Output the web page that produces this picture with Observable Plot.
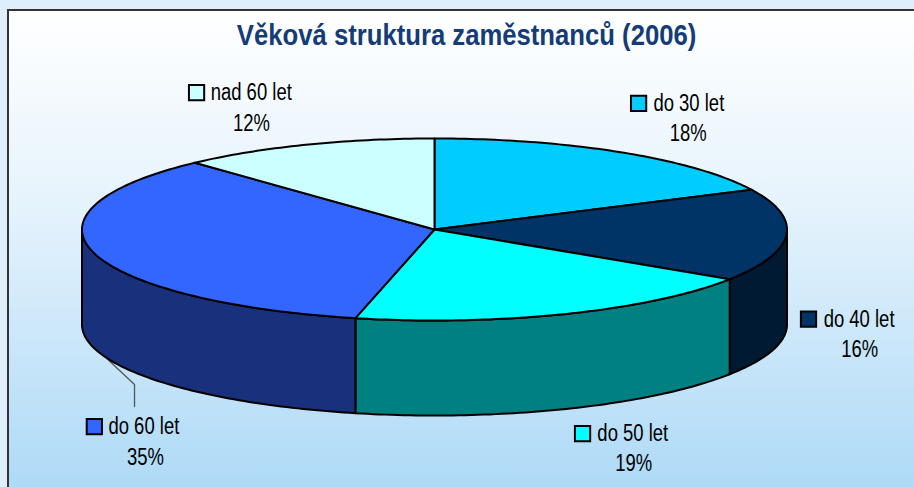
<!DOCTYPE html>
<html lang="cs"><head><meta charset="utf-8">
<script src="https://cdn.jsdelivr.net/npm/d3@7"></script>
<script src="https://cdn.jsdelivr.net/npm/@observablehq/plot@0.6"></script>
<style>
html,body{margin:0;padding:0;background:#deeefb;overflow:hidden;width:914px;height:487px}
#panel{position:absolute;left:7px;top:9px;width:907px;height:478px;box-sizing:border-box;border-left:2px solid #333;border-top:2px solid #333;
background:linear-gradient(#ffffff 0%,#e6f3fc 40%,#aedaf7 100%)}
#chart{position:absolute;left:0;top:0}
svg{background:transparent!important}
text{font-family:"Liberation Sans",sans-serif}
</style></head><body>
<div id="panel"></div><div id="chart"></div>
<script>
const titleText = "Věková struktura zaměstnanců (2006)";
const categories = ["do 30 let","do 40 let","do 50 let","do 60 let","nad 60 let"];
const shares = [17.8,16.4,19.4,34.5,11.9];
const topColors = ["#00ccff","#003366","#00ffff","#3366ff","#ccffff"];
const wallColors = ["#00607f","#001a33","#008080","#19307c","#668080"];

// label layout, in pie-radius units
const swatchX = [0.579,1.061,0.420,-0.965,-0.675];
const nameY   = [1.385,-0.984,-2.242,-2.165,1.505];
const nameX   = [0.621,1.104,0.462,-0.925,-0.635];
const pctX    = [0.72,1.206,0.565,-0.82,-0.519];
const pctY    = [1.055,-1.319,-2.571,-2.505,1.165];
const depth = 1.044;
const leader = [{x:-0.929,y:-1.42},{x:-0.851,y:-1.703},{x:-0.851,y:-1.945}];

const rad = d => d*Math.PI/180;
let cum = 0;
const slices = categories.map((name,i)=>{
  const a0 = cum/100*360; cum += shares[i]; const a1 = cum/100*360;
  return {name,share:shares[i],a0,a1,i};
});
const pt = (a,dz=0)=>({x:Math.sin(rad(a)),y:Math.cos(rad(a))-dz});
const arc = (a0,a1,dz=0)=>{const n=Math.max(2,Math.ceil(Math.abs(a1-a0)));return d3.range(n+1).map(k=>pt(a0+(a1-a0)*k/n,dz));};
const topPoly = s=>[{x:0,y:0},...arc(s.a0,s.a1),{x:0,y:0}];
const wallPoly = s=>{
  const a0=Math.max(s.a0,90),a1=Math.min(s.a1,270);
  if(a1<=a0) return null;
  const t=arc(a0,a1),b=arc(a1,a0,depth);
  return [...t,...b,t[0]];
};
const edge={stroke:"#000",strokeWidth:2,strokeLinejoin:"round",curve:"linear"};
const walls = slices.filter(s=>wallPoly(s)).map(s=>Plot.line(wallPoly(s),{x:"x",y:"y",fill:wallColors[s.i],...edge}));
const tops = slices.map(s=>Plot.line(topPoly(s),{x:"x",y:"y",fill:topColors[s.i],...edge}));
const labels = slices.map((s,i)=>({name:s.name,pct:Math.round(s.share)+"%",sx:swatchX[i],nx:nameX[i],ny:nameY[i],px:pctX[i],py:pctY[i],color:topColors[i]}));

const plot = Plot.plot({
  width:914,height:487,margin:0,
  x:{domain:[-1,1],range:[81.5,786.5],axis:null},
  y:{domain:[1,-1],range:[138,320],axis:null},
  marks:[
    Plot.line(leader,{x:"x",y:"y",stroke:"#555",strokeWidth:1.3}),
    ...walls,
    ...tops,
    Plot.dot(labels,{x:"sx",y:"ny",symbol:"square",r:8.6,fill:"color",stroke:"#000",strokeWidth:2}),
    Plot.text(labels,{x:"nx",y:"ny",text:"name",textAnchor:"start",fontSize:24,fill:"#000"}),
    Plot.text(labels,{x:"px",y:"py",text:"pct",fontSize:24,fill:"#000"}),
    Plot.text([titleText],{x:()=>0.091,y:()=>2.132,text:d=>d,fontSize:29,fontWeight:"bold",fill:"#143c78"})
  ],
  color:{type:"identity"}
});
document.getElementById("chart").appendChild(plot);
// no narrow face is installed: condense the real text to the reference's proportions
plot.querySelectorAll("text").forEach(t=>{
  const ratio = t.textContent===titleText ? 0.886 : 0.77;
  t.setAttribute("transform",(t.getAttribute("transform")||"")+` scale(${ratio},1)`);
});
</script></body></html>
